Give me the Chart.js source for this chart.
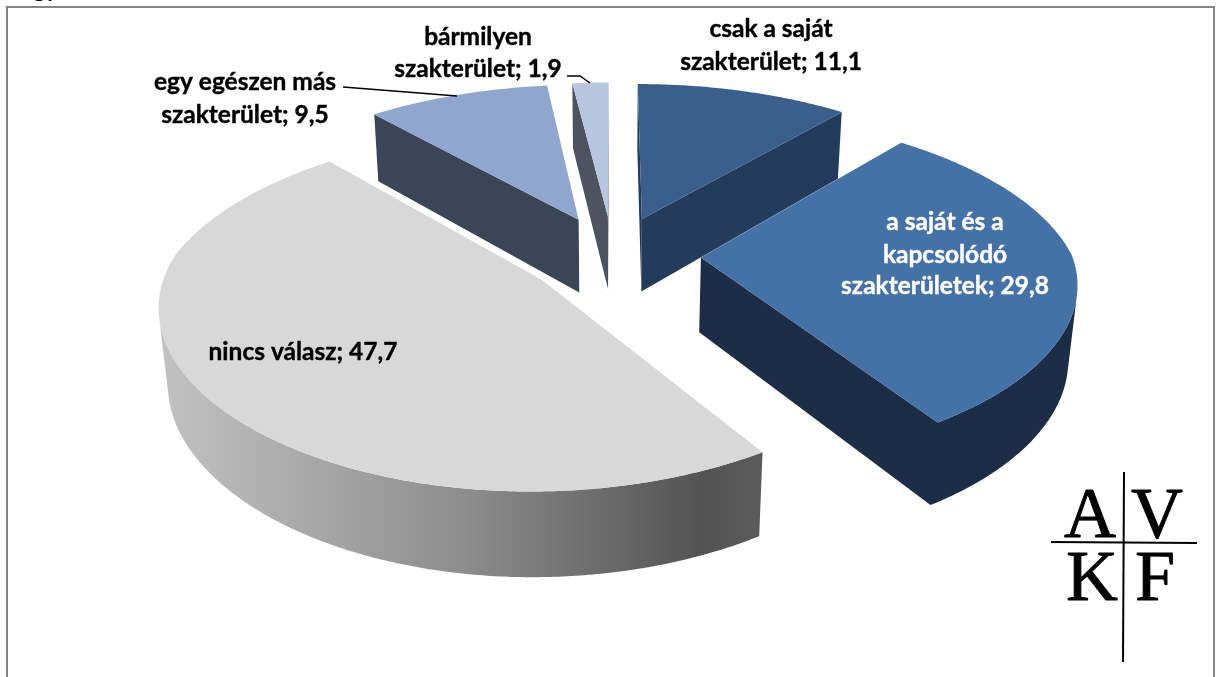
<!DOCTYPE html>
<html><head><meta charset="utf-8">
<style>html,body{margin:0;padding:0;background:#fff;overflow:hidden}#w{width:1217px;height:677px;position:relative}</style>
<script src="https://cdn.jsdelivr.net/npm/chart.js@4"></script>
</head><body><div id="w"><canvas id="c" width="1217" height="677"></canvas></div>
<script>
const categories = ['csak a saját szakterület','a saját és a kapcsolódó szakterületek','nincs válasz','egy egészen más szakterület','bármilyen szakterület'];
const seriesValues = [11.1,29.8,47.7,9.5,1.9];
const valueLabels = ['11,1','29,8','47,7','9,5','1,9'];
const topColors = ['#3A5F8C','#4471A6','#D8D8D8','#91A6CE','#B9C6E0'];
const wallColors = ['#243C5C','#1C2E47',null,'#3A4558','#4D5460'];
const drawOrder = [4,3,0,1,2];

// camera of the tilted pie
const cam = {cx:613, cy:255, rx:371, ry:168, k:0.165, kxBack:0.175, kxFront:0.13, explode:0.237, depth:76, drop:0.02};
function project(X,Y,low){
  const d = low?cam.drop:0;
  const w = 1 + cam.k*Y + d;
  const wx = 1 + (Y>0?cam.kxBack:cam.kxFront)*Y + d;
  return [cam.cx + cam.rx*X/wx, cam.cy + (-cam.ry*Y + (low?cam.depth:0))/w];
}
function outline(arc){
  const a0 = arc.startAngle + Math.PI/2, a1 = arc.endAngle + Math.PI/2, m=(a0+a1)/2;
  const ox = cam.explode*Math.sin(m), oy = cam.explode*Math.cos(m);
  const pts = [[ox,oy]];
  const n = Math.max(4,Math.ceil((a1-a0)/0.01));
  for(let i=0;i<=n;i++){const t=a0+(a1-a0)*i/n; pts.push([ox+Math.sin(t),oy+Math.cos(t)]);}
  return pts;
}
const pie3d = {
  id:'pie3d',
  beforeDatasetDraw(chart){
    const ctx = chart.ctx, arcs = chart.getDatasetMeta(0).data;
    drawOrder.forEach(i=>{
      const arc = arcs[i], pts = outline(arc);
      const tops = pts.map(p=>project(p[0],p[1],false));
      const lows = pts.map(p=>project(p[0],p[1],true));
      let wall = wallColors[i];
      if(!wall){
        const xs = tops.map(p=>p[0]);
        const g = ctx.createLinearGradient(Math.min(...xs),0,Math.max(...xs),0);
        g.addColorStop(0,'#C2C2C2'); g.addColorStop(0.5,'#8E8E8E'); g.addColorStop(0.9,'#535353'); g.addColorStop(1,'#5C5C5C');
        wall = g;
      }
      ctx.save();
      ctx.fillStyle = wall;
      // group the outline edges that face the viewer into single wall polygons
      const N = pts.length;
      const faces = j=>{
        const q=(j+1)%N;
        const ex=tops[q][0]-tops[j][0], ey=tops[q][1]-tops[j][1];
        const dx=lows[j][0]-tops[j][0], dy=lows[j][1]-tops[j][1];
        return ex*dy-ey*dx<0;
      };
      let j=0;
      while(j<N){
        if(!faces(j)){j++;continue;}
        let e=j; while(e<N && faces(e)) e++;
        const run=[]; for(let s=j;s<=e;s++) run.push(s%N);
        ctx.beginPath();
        run.forEach((s,idx)=>idx?ctx.lineTo(tops[s][0],tops[s][1]):ctx.moveTo(tops[s][0],tops[s][1]));
        run.slice().reverse().forEach(s=>ctx.lineTo(lows[s][0],lows[s][1]));
        ctx.closePath(); ctx.fill();
        j=e;
      }
      ctx.beginPath();
      tops.forEach((p,t)=>t?ctx.lineTo(p[0],p[1]):ctx.moveTo(p[0],p[1]));
      ctx.closePath();
      ctx.fillStyle = arc.options.backgroundColor;
      ctx.fill();
      ctx.restore();
    });
    return false;
  }
};
// text placement: [index, lines, centre x, line centres y, colour]
const labelLines = [
  [0,['csak a saját','szakterület; '+valueLabels[0]],771,[29,62],'#000'],
  [1,['a saját és a','kapcsolódó','szakterületek; '+valueLabels[1]],945,[222,255,286],'#fff'],
  [2,['nincs válasz; '+valueLabels[2]],303,[352],'#000'],
  [3,['egy egészen más','szakterület; '+valueLabels[3]],245,[82,115],'#000'],
  [4,['bármilyen','szakterület; '+valueLabels[4]],478,[37,69],'#000']
];
const overlay = {
  id:'overlay',
  beforeDraw(chart){
    const ctx=chart.ctx;
    ctx.save();
    ctx.fillStyle='#fff'; ctx.fillRect(0,0,1217,677);
    ctx.strokeStyle='#868686'; ctx.lineWidth=2;
    ctx.strokeRect(7,7,1207,700);
    ctx.fillStyle='#000'; ctx.font='bold 24px Lato'; ctx.textAlign='left'; ctx.textBaseline='alphabetic';
    ctx.fillText('gy',33,-3);
    ctx.restore();
  },
  afterDatasetsDraw(chart){
    const ctx=chart.ctx;
    ctx.save();
    ctx.strokeStyle='#000'; ctx.lineWidth=1.5;
    ctx.beginPath(); ctx.moveTo(343,87); ctx.lineTo(457,96); ctx.stroke();
    ctx.beginPath(); ctx.moveTo(567,76); ctx.lineTo(580,76); ctx.lineTo(590,83); ctx.stroke();
    ctx.textAlign='center'; ctx.textBaseline='middle';
    ctx.font='bold 24.5px Lato'; ctx.lineWidth=0.4; ctx.lineJoin='round';
    labelLines.forEach(l=>{
      ctx.fillStyle=l[4]; ctx.strokeStyle=l[4];
      l[1].forEach((t,i)=>{ctx.fillText(t,l[2],l[3][i]); ctx.strokeText(t,l[2],l[3][i]);});
    });
    // logo
    ctx.fillStyle='#000'; ctx.strokeStyle='#000'; ctx.font='72px "Liberation Serif"'; ctx.textBaseline='alphabetic';
    ctx.lineWidth=0.9;
    [['A',1090,537],['V',1157,537],['K',1092,600],['F',1155,600]].forEach(a=>{
      ctx.fillText(a[0],a[1],a[2]); ctx.strokeText(a[0],a[1],a[2]);
    });
    ctx.lineWidth=2;
    ctx.beginPath(); ctx.moveTo(1124,472); ctx.lineTo(1123,662); ctx.stroke();
    ctx.beginPath(); ctx.moveTo(1051,542); ctx.lineTo(1197,543); ctx.stroke();
    ctx.restore();
  }
};
new Chart(document.getElementById('c'),{
  type:'pie',
  data:{labels:categories,datasets:[{data:seriesValues,backgroundColor:topColors,borderWidth:0}]},
  options:{responsive:false,animation:false,events:[],plugins:{legend:{display:false},tooltip:{enabled:false}}},
  plugins:[pie3d,overlay]
});
</script></body></html>
